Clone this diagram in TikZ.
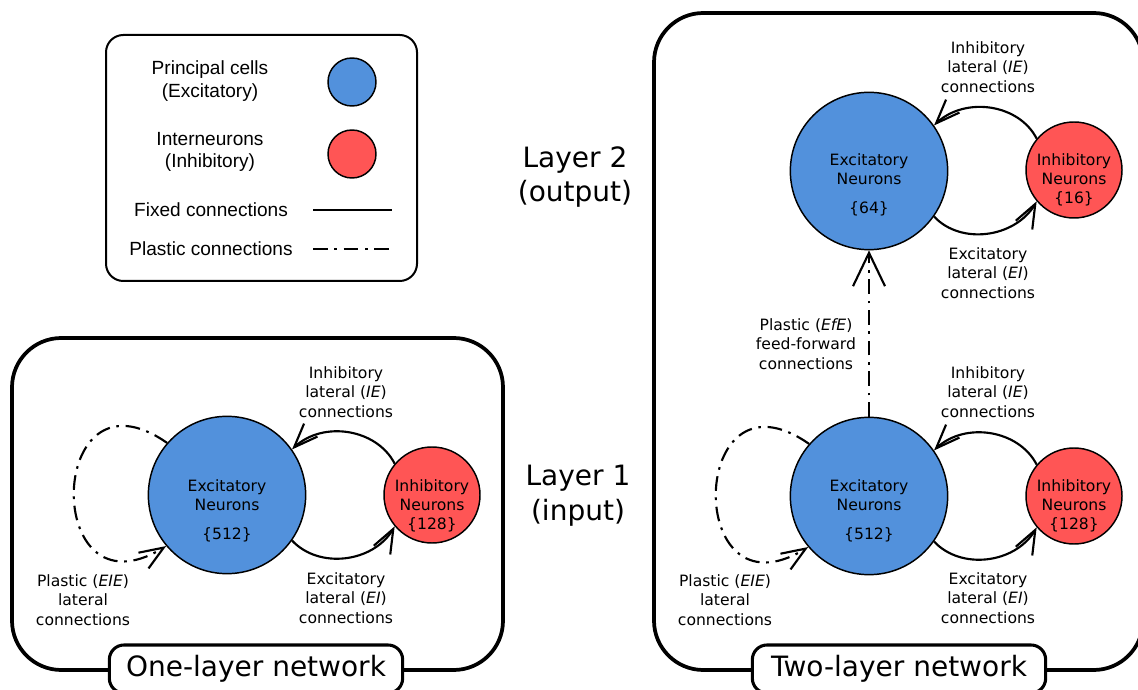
\documentclass[tikz,border=0pt]{standalone}
\usepackage{fontspec}
\setmainfont{DejaVu Sans}
\newfontfamily\legendfont{Liberation Sans}
\usetikzlibrary{arrows.meta,bending}
\definecolor{excblue}{RGB}{82,145,220}
\definecolor{inhred}{RGB}{255,85,85}
\def\smalltxt{\fontsize{11.7}{14.5}\selectfont}
\def\bigtxt{\fontsize{21}{26}\selectfont}
\def\legtxt{\legendfont\fontsize{14.3}{17}\selectfont}

\tikzset{
	excnode/.style={circle, draw, line width=1.1pt, fill=excblue, minimum size=118pt, inner sep=0pt},
	inhnode/.style={circle, draw, line width=1.1pt, fill=inhred, minimum size=72pt, inner sep=0pt},
	fixed/.style={line width=1.6pt},
	plastic/.style={line width=1.6pt, dash pattern=on 11pt off 5pt on 2pt off 5pt},
	barb/.style={-{Straight Barb[length=18pt,width=14pt,flex]}},
	bigbarb/.style={-{Straight Barb[length=25pt,width=24pt]}},
	lbl/.style={align=center, font=\smalltxt, inner sep=0pt},
	legtext/.style={align=center, font=\legtxt, inner sep=0pt},
	layertext/.style={align=center, font=\bigtxt, inner sep=0pt},
	frame/.style={line width=2.8pt, rounded corners=37pt},
	netname/.style={draw, fill=white, line width=2.3pt, rounded corners=11pt, minimum width=220pt, minimum height=36pt, font=\bigtxt}
}

\begin{document}
\begin{tikzpicture}[x=0.75pt,y=0.75pt]
		\useasboundingbox (0,0) rectangle (1138,689);
		% legend
		\draw [line width=1.5pt, rounded corners=13pt] (106,408) rectangle (417,654);
		\draw (210,608) node [legtext] (legexc) {Principal cells\\(Excitatory)};
		\draw (352,607) node [excnode, minimum size=36pt] (legexcdot) {};
		\draw (210,537) node [legtext] (leginh) {Interneurons\\(Inhibitory)};
		\draw (352,535) node [inhnode, minimum size=36pt] (leginhdot) {};
		\draw (211,479) node [legtext] (legfix) {Fixed connections};
		\draw (211,440) node [legtext] (legpla) {Plastic connections};
		\coordinate (fixL) at (313,479);
		\coordinate (fixR) at (392,479);
		\coordinate (plaL) at (313,440);
		\coordinate (plaR) at (392,440);
		\draw [fixed, line width=1.5pt] (fixL) -- (fixR);
		\draw [plastic, line width=1.5pt] (plaL) -- (plaR);
		% layer names
		\draw (575,512) node [layertext] (layer2) {Layer 2\\(output)};
		\draw (578,193) node [layertext] (layer1) {Layer 1\\(input)};
		% one-layer network
		\draw [frame] (12,19) rectangle (503,351);
		\draw (227,194) node [excnode] (excA) {};
		\draw (432,194) node [inhnode] (inhA) {};
		\draw (227,178) node [lbl] (excAtxt) {Excitatory\\Neurons\\[7pt]\{512\}};
		\draw (432,183) node [lbl] (inhAtxt) {Inhibitory\\Neurons\\\{128\}};
		\draw [fixed, barb] (inhA.140) to [out=117, in=47] (excA.35);
		\draw [fixed, barb] (excA.-35) to [out=-47, in=-117] (inhA.-140);
		\draw [plastic, barb] (excA.139) to [out=145, in=213, looseness=3.7] (excA.220);
		\draw (346,297) node [lbl] (ieA) {Inhibitory\\lateral (\textit{IE})\\connections};
		\draw (346,91) node [lbl] (eiA) {Excitatory\\lateral (\textit{EI})\\connections};
		\draw (83,89) node [lbl] (eeA) {Plastic (\textit{EIE})\\lateral\\connections};
		\draw (256,20) node [netname] (netA) {One-layer network};
		% two-layer network
		\draw [frame] (654,19) rectangle (1143,676);
		\draw (869,518) node [excnode] (excB) {};
		\draw (1074,519) node [inhnode] (inhB) {};
		\draw (869,504) node [lbl] (excBtxt) {Excitatory\\Neurons\\[7pt]\{64\}};
		\draw (1074,509) node [lbl] (inhBtxt) {Inhibitory\\Neurons\\\{16\}};
		\draw [fixed, barb] (inhB.140) to [out=117, in=47] (excB.35);
		\draw [fixed, barb] (excB.-35) to [out=-47, in=-117] (inhB.-140);
		\draw (988,622) node [lbl] (ieB) {Inhibitory\\lateral (\textit{IE})\\connections};
		\draw (988,416) node [lbl] (eiB) {Excitatory\\lateral (\textit{EI})\\connections};
		\draw (869,193) node [excnode] (excC) {};
		\draw (1074,193) node [inhnode] (inhC) {};
		\draw (869,178) node [lbl] (excCtxt) {Excitatory\\Neurons\\[7pt]\{512\}};
		\draw (1074,183) node [lbl] (inhCtxt) {Inhibitory\\Neurons\\\{128\}};
		\draw [fixed, barb] (inhC.140) to [out=117, in=47] (excC.35);
		\draw [fixed, barb] (excC.-35) to [out=-47, in=-117] (inhC.-140);
		\draw [plastic, barb] (excC.139) to [out=145, in=213, looseness=3.7] (excC.220);
		\draw [plastic, bigbarb] (excC) -- (excB);
		\draw (988,297) node [lbl] (ieC) {Inhibitory\\lateral (\textit{IE})\\connections};
		\draw (988,91) node [lbl] (eiC) {Excitatory\\lateral (\textit{EI})\\connections};
		\draw (725,89) node [lbl] (eeC) {Plastic (\textit{EIE})\\lateral\\connections};
		\draw (806,345) node [lbl] (ffC) {Plastic (\textit{EfE})\\feed-forward\\connections};
		\draw (899,20) node [netname] (netB) {Two-layer network};
		\end{tikzpicture}
\end{document}
